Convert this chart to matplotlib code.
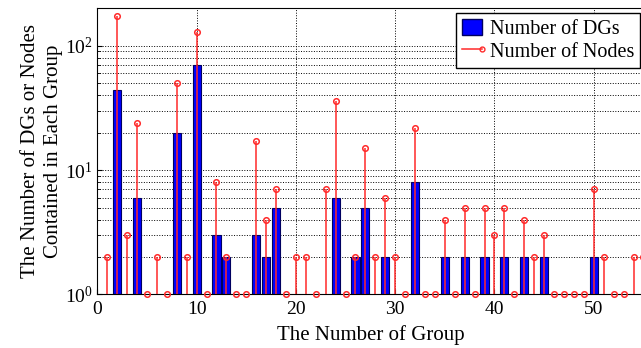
import matplotlib.pyplot as plt
from matplotlib.patches import Patch
from matplotlib.lines import Line2D
from matplotlib.legend_handler import HandlerLine2D
import numpy as np

plt.rcParams['font.family'] = ['Liberation Serif', 'DejaVu Serif']
plt.rcParams['mathtext.fontset'] = 'stix'

groups = np.arange(1, 56)
dgs = [0, 44, 0, 6, 0, 0, 0, 20, 0, 70,
       0, 3, 2, 0, 0, 3, 2, 5, 0, 0,
       0, 0, 0, 6, 0, 2, 5, 0, 2, 0,
       0, 8, 0, 0, 2, 0, 2, 0, 2, 0,
       2, 0, 2, 0, 2, 0, 0, 0, 0, 2,
       0, 0, 0, 0, 0]
nodes = [2, 175, 3, 24, 1, 2, 1, 50, 2, 130,
         1, 8, 2, 1, 1, 17, 4, 7, 1, 2,
         2, 1, 7, 36, 1, 2, 15, 2, 6, 2,
         1, 22, 1, 1, 4, 1, 5, 1, 5, 3,
         5, 1, 4, 2, 3, 1, 1, 1, 1, 7,
         2, 1, 1, 2, 2]

dgs = np.array(dgs)
nodes = np.array(nodes)


# legend line with the marker at its right end (matlab stem style)
class StemHandler(HandlerLine2D):
    def create_artists(self, legend, orig_handle, xdescent, ydescent,
                       width, height, fontsize, trans):
        artists = super().create_artists(legend, orig_handle, xdescent, ydescent,
                                         width, height, fontsize, trans)
        for a in artists:
            n = len(a.get_xdata())
            a.set_markevery([n - 1])
        return artists


fig = plt.figure(figsize=(6.41, 3.48), dpi=100)
ax = fig.add_axes([0.1518, 0.154, 0.852, 0.822])

has_dg = dgs > 0
ax.bar(groups[has_dg], dgs[has_dg] - 1, bottom=1, width=0.82,
       color='#0000ff', edgecolor='#000060', linewidth=0.8, zorder=2)

ax.vlines(groups, 1, nodes, color='#ff2a2a', linewidth=1.1, zorder=3)
ax.plot(groups, nodes, linestyle='none', marker='o', markersize=4,
        markerfacecolor='none', markeredgecolor='#ff2a2a', markeredgewidth=1.1,
        zorder=4, clip_on=False)

ax.set_yscale('log')
ax.set_ylim(1, 200)
ax.set_xlim(0, 55)
ax.set_xticks([0, 10, 20, 30, 40, 50])

ax.grid(True, which='major', axis='both', linestyle=':', color='black', linewidth=0.7, zorder=0)
ax.grid(True, which='minor', axis='y', linestyle=':', color='black', linewidth=0.7, zorder=0)
ax.set_axisbelow(True)

ax.tick_params(which='both', direction='in', labelsize=14, top=False, right=False)
ax.tick_params(axis='x', pad=5)
ax.spines['right'].set_visible(False)

ax.set_xlabel('The Number of Group', fontsize=15, labelpad=5)
ax.set_ylabel('The Number of DGs or Nodes\nContained in Each Group', fontsize=15,
              labelpad=1, linespacing=1.3)

dg_handle = Patch(facecolor='#0000ff', edgecolor='#000060')
node_handle = Line2D([], [], color='#ff2a2a', marker='o', markersize=3.5,
                     markerfacecolor='none', linewidth=1.1)
ax.legend([dg_handle, node_handle], ['Number of DGs', 'Number of Nodes'],
          handler_map={Line2D: StemHandler()},
          loc='upper right', bbox_to_anchor=(0.994, 0.984), fontsize=14.5,
          frameon=True, fancybox=False, edgecolor='black', framealpha=1,
          borderpad=0.3, labelspacing=0.15, handlelength=1.0, handleheight=0.85,
          handletextpad=0.4, borderaxespad=0)

fig.savefig('out.png', dpi=100)
